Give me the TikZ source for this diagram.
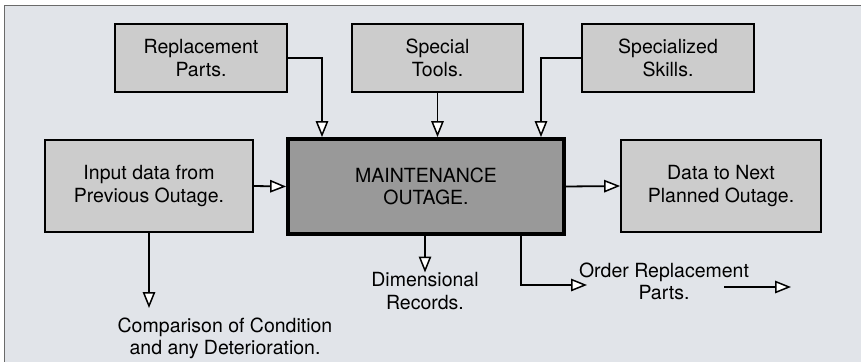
\documentclass[tikz,border=0pt]{standalone}
\usepackage{fontspec}
\setmainfont{TeX Gyre Heros}
\usepackage{tikz}
\usetikzlibrary{arrows.meta, positioning}
\usepackage{xcolor}
\definecolor{panelbg}{HTML}{E1E4E9}
\definecolor{panelrule}{HTML}{6A6A6A}
\definecolor{boxgray}{HTML}{CCCCCC}
\definecolor{maingray}{HTML}{999999}
\newcommand{\flowfont}{\fontsize{19.5}{22.5}\selectfont}

\begin{document}
\begin{tikzpicture}[x=1pt,y=-1pt,font=\flowfont]
    \tikzstyle{block}=[shape=rectangle,draw,fill=boxgray,line width=1.8pt,align=center,inner sep=0pt]
    \tikzstyle{mainblock}=[shape=rectangle,draw,fill=maingray,line width=3.8pt,align=center,inner sep=0pt]
    \tikzstyle{note}=[align=center,inner sep=0pt,anchor=north]
    \tikzstyle{flow}=[line width=1.8pt,-{Triangle[fill=white,length=16pt,width=12.5pt,line width=1.5pt]}]

    % panel
    \clip (0,0) rectangle (861,361);
    \draw[fill=panelbg,draw=panelrule,line width=1pt] (4,6) rectangle (880,380);

    % boxes
    \node[block,minimum width=172pt,minimum height=68pt] (repl) at (201,58) {Replacement\\Parts.};
    \node[block,minimum width=171pt,minimum height=68pt] (tools) at (437.5,58) {Special\\Tools.};
    \node[block,minimum width=172pt,minimum height=68pt] (skills) at (668,58) {Specialized\\Skills.};
    \node[block,minimum width=208pt,minimum height=92pt] (input) at (149,186) {Input data from\\Previous Outage.};
    \node[mainblock,minimum width=276pt,minimum height=95pt] (maint) at (426,186.5) {MAINTENANCE\\OUTAGE.};
    \node[block,minimum width=200pt,minimum height=92pt] (nextdata) at (721,186) {Data to Next\\Planned Outage.};

    % free texts
    \node[note] (compare) at (225,317.5) {Comparison of Condition\\and any Deterioration.};
    \node[note] (dimrec) at (425,272.5) {Dimensional\\Records.};
    \node[note] (order) at (664,262.5) {Order Replacement\\Parts.};

    \coordinate (replin) at (322,0);
    \coordinate (skillsin) at (541,0);
    \coordinate (orderfrom) at (521,0);
    \coordinate (ordertip) at (587,285);
    \coordinate (comparetip) at (149,308);
    \coordinate (partsout) at (724,287);
    \coordinate (partsend) at (791,287);

    % connectors
    \draw[flow] (repl.east) -| (replin |- maint.north);
    \draw[flow] (tools.south) -- (tools.south |- maint.north);
    \draw[flow] (skills.west) -| (skillsin |- maint.north);
    \draw[flow] (input.east) -- (maint.west);
    \draw[flow] (maint.east) -- (nextdata.west);
    \draw[flow] (input.south) -- (comparetip);
    \draw[flow] (dimrec.north |- maint.south) -- (dimrec.north);
    \draw[flow] (orderfrom |- maint.south) |- (ordertip);
    \draw[flow] (partsout) -- (partsend);
\end{tikzpicture}
\end{document}
